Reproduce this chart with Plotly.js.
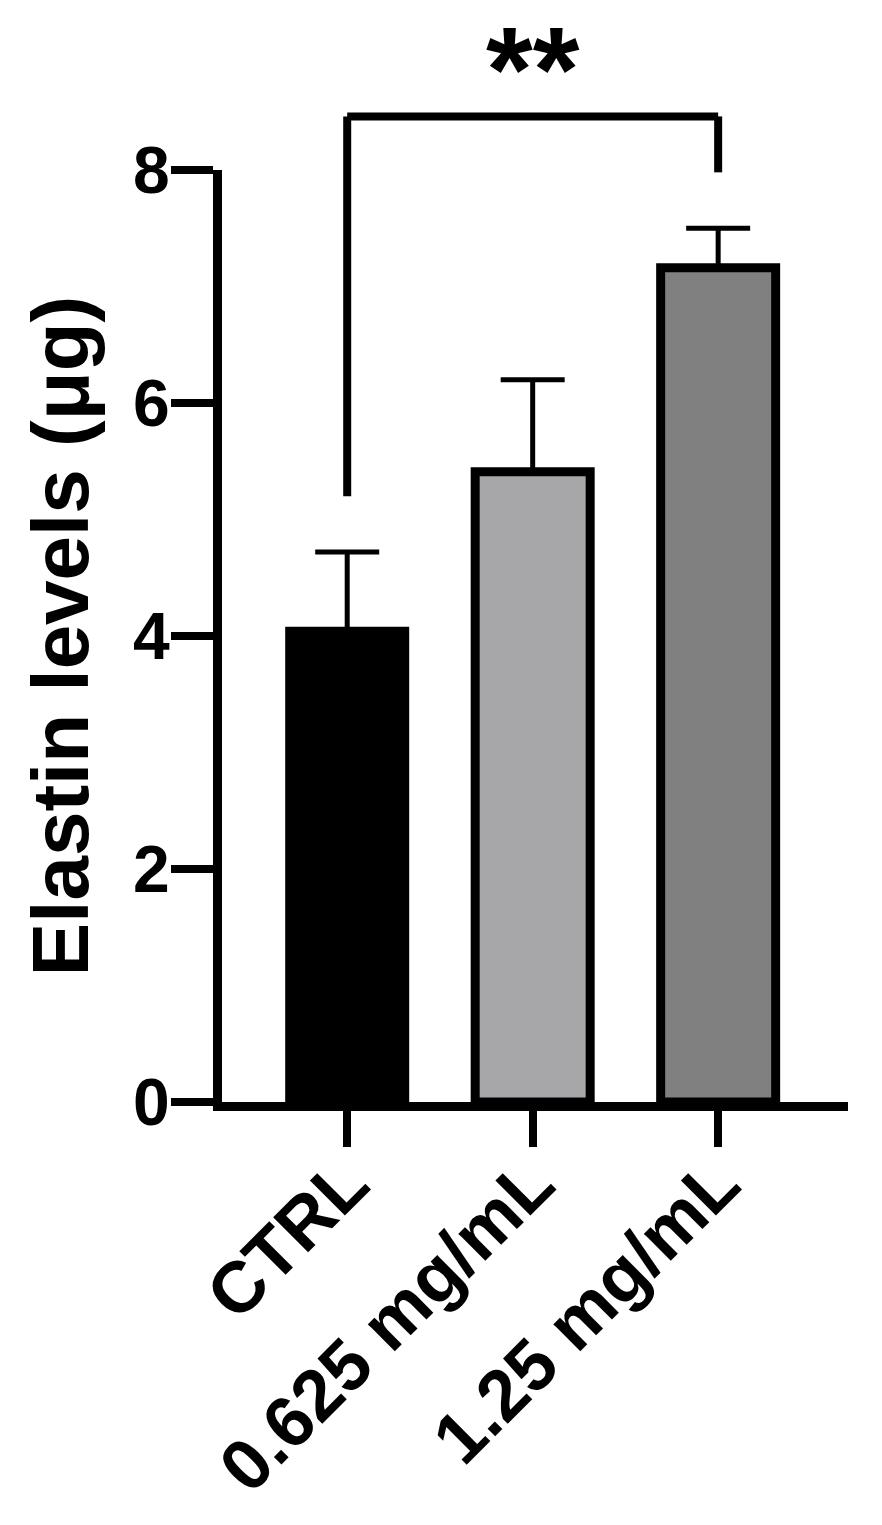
<!DOCTYPE html>
<html>
<head>
<meta charset="utf-8">
<script src="https://cdn.plot.ly/plotly-3.0.1.min.js"></script>
<style>
  html, body { margin: 0; padding: 0; background: #fff; }
  #chart { width: 882px; height: 1525px; }
</style>
</head>
<body>
<div id="chart"></div>
<script>
// Elastin levels per treatment group (mean + SD)
const groups = ['CTRL', '0.625 mg/mL', '1.25 mg/mL'];
const means = [4.04, 5.41, 7.16];
const errors = [0.68, 0.79, 0.34];
const barColors = ['#000000', '#a7a7a9', '#808080'];

// significance bracket between CTRL and 1.25 mg/mL
const sigPair = [0, 2];
const sigLabel = '**';

const FONT = 'Liberation Sans, Arial, sans-serif';
const Y_MAX = 8;

const bars = {
    type: 'bar',
    x: groups,
    y: means,
    width: 0.62,
    marker: {
        color: barColors,
        line: { color: '#000', width: 9 }
    },
    error_y: {
        type: 'data',
        symmetric: false,
        array: errors,
        arrayminus: errors.map(() => 0),
        color: '#000',
        thickness: 5,
        width: 32
    },
    hoverinfo: 'x+y'
};

// bracket heights in data units, converted to paper units (range is 0..Y_MAX)
const tops = means.map((m, i) => m + errors[i]);
const legGap = 0.48;
const bracketTop = 8.46;
const toPaper = v => v / Y_MAX;
const bracketLine = { color: '#000', width: 8 };

const shapes = [
    { type: 'line', xref: 'x', yref: 'paper',
      x0: sigPair[0], x1: sigPair[0],
      y0: toPaper(tops[sigPair[0]] + legGap), y1: toPaper(bracketTop), line: bracketLine },
    { type: 'line', xref: 'x', yref: 'paper',
      x0: sigPair[0], x1: sigPair[1],
      y0: toPaper(bracketTop), y1: toPaper(bracketTop), line: bracketLine },
    { type: 'line', xref: 'x', yref: 'paper',
      x0: sigPair[1], x1: sigPair[1],
      y0: toPaper(bracketTop), y1: toPaper(tops[sigPair[1]] + legGap), line: bracketLine }
];

const layout = {
    width: 882,
    height: 1525,
    margin: { l: 222, r: 34, t: 170, b: 423 },
    paper_bgcolor: '#fff',
    plot_bgcolor: '#fff',
    showlegend: false,
    font: { family: FONT, color: '#000' },
    xaxis: {
        type: 'category',
        range: [-0.675, 2.7],
        showline: true,
        linecolor: '#000',
        linewidth: 9,
        ticks: 'outside',
        ticklen: 36,
        tickwidth: 8,
        tickcolor: '#000',
        tickangle: -45,
        ticklabelstandoff: -35,
        tickfont: { family: FONT, size: 72, color: '#000', weight: 'bold' },
        showgrid: false,
        zeroline: false
    },
    yaxis: {
        range: [0, Y_MAX],
        tickvals: [0, 2, 4, 6, 8],
        showline: true,
        linecolor: '#000',
        linewidth: 9,
        ticks: 'outside',
        ticklen: 42,
        tickwidth: 8,
        tickcolor: '#000',
        ticklabelstandoff: -12,
        tickfont: { family: FONT, size: 66, color: '#000', weight: 'bold' },
        showgrid: false,
        zeroline: false,
        title: {
            text: 'Elastin levels (μg)',
            font: { family: FONT, size: 80, color: '#000', weight: 'bold' },
            standoff: 22
        }
    },
    shapes: shapes,
    annotations: [{
        xref: 'x', yref: 'paper',
        x: (sigPair[0] + sigPair[1]) / 2,
        y: toPaper(8.87),
        text: sigLabel,
        showarrow: false,
        yanchor: 'middle',
        font: { family: FONT, size: 120, color: '#000', weight: 'bold' }
    }]
};

Plotly.newPlot('chart', [bars], layout, { displayModeBar: false, staticPlot: true });
</script>
</body>
</html>
